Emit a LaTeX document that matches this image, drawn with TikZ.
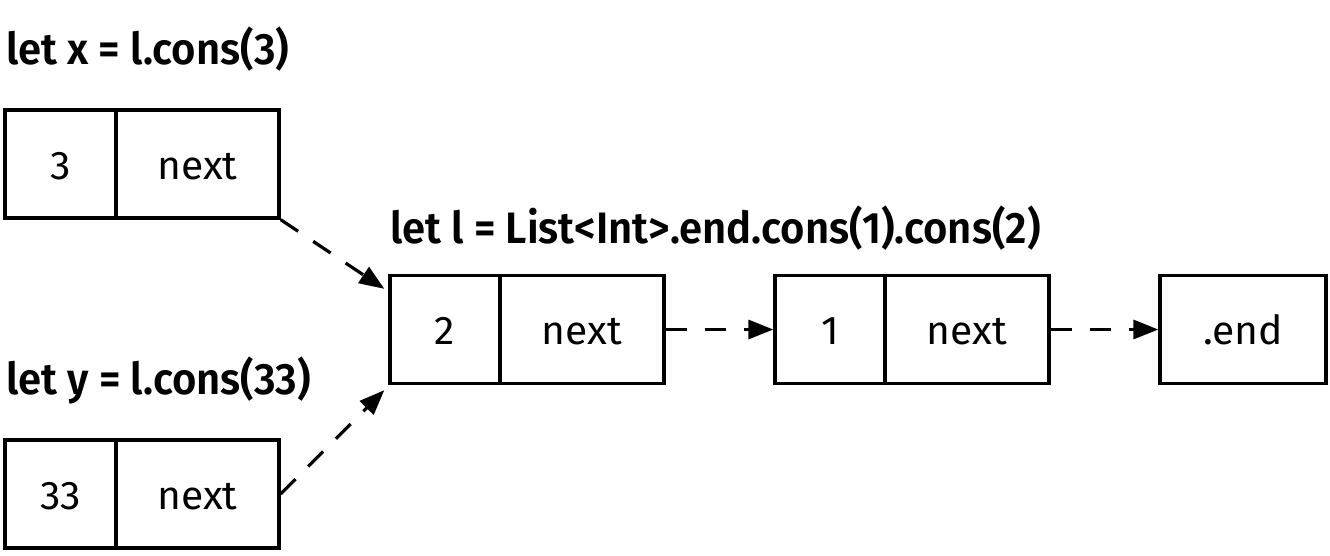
\documentclass[tikz,border=0pt]{standalone}
\usepackage{fontspec}
\setmainfont{Fira Sans}
\newfontfamily\titlefont[FakeStretch=0.95]{Fira Sans SemiBold}
\newfontfamily\boxfont[FakeStretch=1.02]{Fira Sans}
\usetikzlibrary{arrows.meta}
\begin{document}
\begin{tikzpicture}[x=1pt,y=-1pt,
  cell/.style={draw,line width=3.4pt,minimum height=108pt,inner sep=0pt,text height=30pt,text depth=0pt,font=\boxfont\fontsize{40}{46}\selectfont},
  title/.style={inner sep=0pt,anchor=base west,font=\titlefont\fontsize{44}{50}\selectfont},
  ptr/.style={line width=3.2pt,dash pattern=on 21pt off 18pt,-{Triangle[length=25pt,width=19pt]}}]
\useasboundingbox (0,0) rectangle (1330,555);
\node[title] (tx) at (6,64) {let x = l.cons(3)};
\node[title] (tl) at (390,243) {let l = List<Int>.end.cons(1).cons(2)};
\node[title] (ty) at (6,394) {let y = l.cons(33)};
% x cell
\node[cell,minimum width=111pt] (xv) at (60.5,164) {3};
\node[cell,minimum width=163pt] (xn) at (197.5,164) {next};
% y cell
\node[cell,minimum width=111pt] (yv) at (60.5,494) {33};
\node[cell,minimum width=163pt] (yn) at (197.5,494) {next};
% 2 cell
\node[cell,minimum width=110pt] (av) at (445,329.5) {2};
\node[cell,minimum width=164pt] (an) at (582,329.5) {next};
% 1 cell
\node[cell,minimum width=110pt] (bv) at (830,329.5) {1};
\node[cell,minimum width=164pt] (bn) at (967,329.5) {next};
% end
\node[cell,minimum width=166pt] (e) at (1243,329.5) {.end};
\coordinate (ain) at ([shift={(-4pt,-15pt)}]av.north west);
\coordinate (ain2) at ([shift={(-4pt,-5pt)}]av.south west);
\draw[ptr] (xn.south east) -- (ain);
\draw[ptr] (yn.east) -- (ain2);
\draw[ptr] (an.east) -- (bv.west);
\draw[ptr] (bn.east) -- (e.west);
\end{tikzpicture}
\end{document}
